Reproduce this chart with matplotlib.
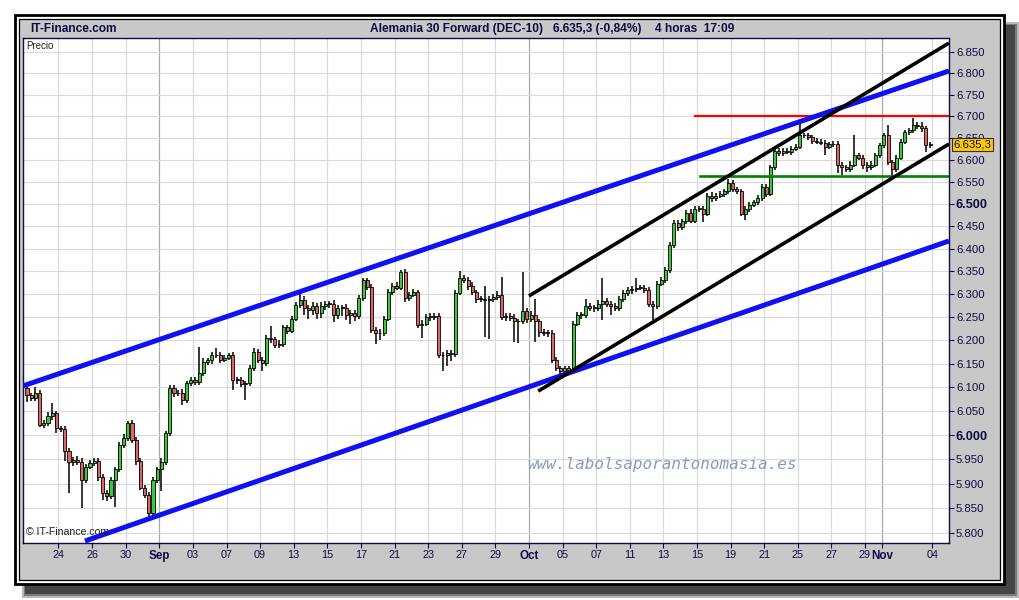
import numpy as np
import pandas as pd
import matplotlib
matplotlib.use('Agg')
import matplotlib.pyplot as plt
from matplotlib.patches import Rectangle
from matplotlib.ticker import NullLocator
import matplotlib.transforms as mtransforms

plt.rcParams['font.family'] = ['Liberation Sans', 'DejaVu Sans']

# ---------------- data (DAX 4h bars, index points) ----------------
open_first = 6098
closes = [
    6084, 6078, 6089, 6021, 6025, 6040, 6045, 6014, 6012, 5966,
    5944, 5949, 5945, 5908, 5935, 5943, 5947, 5914, 5881, 5874,
    5908, 5929, 5980, 5994, 6025, 5990, 5947, 5892, 5877, 5840,
    5908, 5929, 5944, 6004, 6099, 6087, 6089, 6073, 6109, 6116,
    6111, 6130, 6154, 6157, 6168, 6168, 6159, 6163, 6168, 6116,
    6116, 6106, 6109, 6141, 6175, 6158, 6152, 6205, 6202, 6189,
    6192, 6228, 6221, 6247, 6276, 6287, 6270, 6265, 6274, 6260,
    6274, 6279, 6279, 6255, 6270, 6270, 6255, 6260, 6252, 6291,
    6330, 6316, 6222, 6215, 6216, 6247, 6305, 6318, 6314, 6348,
    6291, 6299, 6304, 6233, 6236, 6250, 6250, 6252, 6168, 6168,
    6173, 6171, 6303, 6335, 6331, 6318, 6304, 6289, 6289, 6287,
    6289, 6294, 6297, 6250, 6252, 6248, 6241, 6241, 6264, 6245,
    6255, 6241, 6218, 6216, 6216, 6158, 6140, 6135, 6140, 6135,
    6236, 6255, 6255, 6275, 6270, 6270, 6279, 6286, 6279, 6274,
    6270, 6289, 6302, 6309, 6311, 6314, 6314, 6309, 6279, 6274,
    6323, 6331, 6353, 6408, 6457, 6447, 6461, 6480, 6462, 6488,
    6488, 6478, 6518, 6513, 6518, 6523, 6528, 6548, 6533, 6528,
    6478, 6488, 6498, 6503, 6513, 6538, 6523, 6583, 6620, 6615,
    6620, 6618, 6625, 6630, 6656, 6656, 6651, 6643, 6641, 6639,
    6630, 6635, 6637, 6589, 6583, 6579, 6589, 6610, 6605, 6589,
    6583, 6589, 6610, 6633, 6656, 6594, 6579, 6605, 6641, 6663,
    6668, 6680, 6677, 6672, 6633, 6635]

wick_up = [
    6, 5, 12, 5, 6, 8, 22, 6, 5, 6,
    8, 6, 8, 8, 6, 5, 6, 5, 6, 6,
    6, 5, 6, 8, 5, 6, 5, 6, 6, 6,
    5, 6, 8, 5, 5, 6, 6, 8, 5, 6,
    6, 56, 8, 6, 6, 15, 6, 6, 5, 6,
    6, 6, 5, 6, 8, 6, 6, 6, 25, 6,
    8, 5, 6, 6, 6, 13, 8, 6, 8, 6,
    8, 6, 6, 8, 6, 6, 8, 6, 6, 6,
    5, 6, 6, 6, 8, 6, 6, 6, 8, 5,
    6, 6, 8, 6, 8, 6, 8, 6, 6, 6,
    6, 6, 6, 15, 6, 6, 8, 6, 6, 28,
    6, 6, 10, 41, 6, 6, 8, 6, 85, 6,
    8, 35, 6, 6, 6, 6, 6, 6, 6, 6,
    6, 6, 6, 14, 6, 6, 8, 50, 6, 6,
    6, 6, 6, 6, 6, 22, 6, 6, 6, 6,
    6, 6, 6, 6, 6, 6, 6, 6, 8, 6,
    6, 6, 6, 8, 6, 6, 6, 9, 6, 6,
    6, 6, 6, 6, 8, 6, 6, 6, 6, 6,
    6, 6, 6, 6, 31, 6, 6, 6, 6, 6,
    6, 6, 6, 6, 6, 6, 8, 47, 6, 6,
    6, 8, 6, 6, 6, 23, 6, 6, 6, 6,
    6, 15, 6, 10, 6, 6]

wick_dn = [
    15, 6, 6, 5, 6, 6, 8, 10, 6, 20,
    64, 8, 6, 57, 6, 6, 6, 8, 14, 10,
    6, 55, 6, 6, 6, 6, 8, 6, 6, 8,
    6, 6, 44, 6, 6, 8, 6, 10, 6, 6,
    6, 6, 6, 6, 8, 6, 8, 6, 6, 22,
    8, 6, 32, 6, 6, 6, 18, 6, 8, 6,
    6, 6, 8, 6, 6, 6, 15, 20, 10, 15,
    12, 8, 10, 15, 10, 18, 12, 20, 10, 6,
    6, 8, 6, 23, 15, 6, 6, 8, 6, 6,
    8, 6, 6, 6, 28, 6, 8, 6, 6, 34,
    23, 15, 6, 6, 6, 8, 6, 8, 6, 80,
    85, 6, 6, 6, 8, 6, 44, 46, 6, 8,
    6, 45, 10, 6, 8, 6, 6, 13, 6, 6,
    6, 6, 8, 6, 6, 8, 6, 35, 6, 20,
    6, 6, 6, 6, 8, 6, 6, 6, 6, 30,
    6, 6, 6, 6, 6, 8, 6, 6, 6, 6,
    6, 19, 6, 8, 6, 6, 8, 6, 6, 6,
    6, 15, 6, 6, 6, 6, 7, 6, 6, 6,
    6, 6, 8, 6, 6, 6, 6, 8, 6, 6,
    19, 6, 6, 20, 17, 8, 6, 6, 6, 10,
    12, 6, 6, 6, 6, 6, 15, 6, 6, 6,
    6, 6, 6, 8, 15, 6]

bars_per_day = 4
first_day = '2010-08-20'
last_day = '2010-11-04'
tick_dates = ['2010-08-24', '2010-08-26', '2010-08-30', '2010-09-01', '2010-09-03',
              '2010-09-07', '2010-09-09', '2010-09-13', '2010-09-15', '2010-09-17',
              '2010-09-21', '2010-09-23', '2010-09-27', '2010-09-29', '2010-10-01',
              '2010-10-05', '2010-10-07', '2010-10-11', '2010-10-13', '2010-10-15',
              '2010-10-19', '2010-10-21', '2010-10-25', '2010-10-27', '2010-10-29',
              '2010-11-01', '2010-11-04']
tick_labels = ['24', '26', '30', 'Sep', '03', '07', '09', '13', '15', '17', '21', '23',
               '27', '29', 'Oct', '05', '07', '11', '13', '15', '19', '21', '25', '27',
               '29', 'Nov', '04']
month_labels = ['Sep', 'Oct', 'Nov']

price_levels = list(range(5800, 6851, 50))
bold_levels = [6000, 6500]

# trendlines (bar index, price)
blue_upper_x, blue_upper_y = [-0.95, 219.5], [6103, 6806]
blue_lower_x, blue_lower_y = [13.8, 219.5], [5784, 6417]
black_upper_x, black_upper_y = [119.5, 219.5], [6296, 6872]
black_lower_x, black_lower_y = [121.7, 219.5], [6092, 6636]
resist_x, resist_y = [159.0, 219.5], [6700, 6700]
support_x, support_y = [160.2, 219.5], [6563, 6563]

last_text = '6.635,3'
title_main = 'Alemania 30 Forward (DEC-10)'
title_price = '6.635,3 (-0,84%)'
title_time = '4 horas  17:09'

# ---------------- figure ----------------
W, H = 1020, 600
fig = plt.figure(figsize=(W / 100, H / 100), dpi=100)
fig.patch.set_facecolor('white')


def fx(x):
    return x / W


def fy(y):
    return 1 - y / H


def frect(x0, y0, x1, y1, z=-5, **kw):
    r = Rectangle((fx(x0), fy(y1)), fx(x1) - fx(x0), fy(y0) - fy(y1),
                  transform=fig.transFigure, zorder=z, **kw)
    fig.add_artist(r)
    return r


# drop shadow
frect(22, 22, 1019, 598, z=-9, facecolor='#b8b8b8', edgecolor='none')
frect(24, 24, 1017, 596, z=-8, facecolor='#7a7a7a', edgecolor='none')
frect(25, 25, 1015, 594, z=-7, facecolor='#454545', edgecolor='none')
# panel with double border
frect(15, 15, 1004, 584, z=-6, facecolor='white', edgecolor='black', linewidth=2.0)
frect(19, 19, 1000, 580, z=-5, facecolor='#c8c8c8', edgecolor='black', linewidth=0.9)

navy = '#0c0c44'

ax = fig.add_axes([fx(23), fy(543), fx(949) - fx(23), fy(38) - fy(543)], zorder=2)
ax.set_facecolor('white')
for s in ax.spines.values():
    s.set_color(navy)
    s.set_linewidth(1.0)

c = np.array(closes, dtype=float)
n = len(c)
o = np.concatenate([[open_first], c[:-1]])
top = np.maximum(o, c)
bot = np.minimum(o, c)
hi = np.array([t + w for t, w in zip(top, wick_up)])
lo = np.array([b - w for b, w in zip(bot, wick_dn)])
x = np.arange(n)

ax.set_yscale('log')
ax.set_xlim(-0.95, 219.5)
ax.set_ylim(5780, 6884)

ax.vlines(x[:len(hi)], lo, hi, colors='black', linewidth=1.1, zorder=3)
up = c >= o
body = np.maximum(top - bot, 1.5)
ax.bar(x[up], body[up], bottom=bot[up], width=0.72, color='#3cc83c',
       edgecolor='black', linewidth=0.6, zorder=4)
ax.bar(x[~up], body[~up], bottom=bot[~up], width=0.72, color='#e06464',
       edgecolor='black', linewidth=0.6, zorder=4)

# trendlines
ax.plot(blue_upper_x, blue_upper_y, color='#1010f0', lw=3.6, solid_capstyle='butt', zorder=6)
ax.plot(blue_lower_x, blue_lower_y, color='#1010f0', lw=3.6, solid_capstyle='butt', zorder=6)
ax.plot(black_upper_x, black_upper_y, color='black', lw=2.6, solid_capstyle='butt', zorder=6)
ax.plot(black_lower_x, black_lower_y, color='black', lw=2.6, solid_capstyle='butt', zorder=6)
ax.plot(resist_x, resist_y, color='#ff0000', lw=1.6, zorder=5)
ax.plot(support_x, support_y, color='#008000', lw=1.9, zorder=5)

# y axis
ax.yaxis.tick_right()
ax.yaxis.set_minor_locator(NullLocator())
ax.set_yticks(price_levels, labels=[f'{v / 1000:.3f}' for v in price_levels])
for lbl, v in zip(ax.get_yticklabels(), price_levels):
    lbl.set_color(navy)
    if v in bold_levels:
        lbl.set_fontweight('bold')
        lbl.set_fontsize(9.2)
    else:
        lbl.set_fontsize(8.2)
ax.tick_params(axis='y', which='both', direction='out', length=3.5, width=0.8,
               color=navy, pad=1.5, left=False, right=True)
ax.grid(axis='y', color='#dadada', linewidth=0.8, zorder=0)
ax.set_axisbelow(True)

# x axis: trading days, 4 bars per day
days = pd.bdate_range(first_day, last_day)
day_idx = {d.strftime('%Y-%m-%d'): i for i, d in enumerate(days)}
tick_pos = [day_idx[d] * bars_per_day - 0.5 for d in tick_dates]
ax.set_xticks(tick_pos, labels=tick_labels)
ax.xaxis.set_minor_locator(NullLocator())
for lbl, t in zip(ax.get_xticklabels(), tick_labels):
    lbl.set_color(navy)
    if t in month_labels:
        lbl.set_fontweight('bold')
        lbl.set_fontsize(8.4)
    else:
        lbl.set_fontsize(7.8)
ax.tick_params(axis='x', direction='out', length=3.5, width=0.8, color=navy, pad=1.2)
for p, t in zip(tick_pos, tick_labels):
    ax.axvline(p, color='#a8a8a8' if t in month_labels else '#dadada',
               linewidth=0.9, zorder=0)

# last price tag
trans = mtransforms.blended_transform_factory(ax.transAxes, ax.transData)
ax.text(1.005, closes[-1], last_text, transform=trans, ha='left', va='center',
        fontsize=8.2, color=navy, zorder=10, clip_on=False,
        bbox=dict(boxstyle='square,pad=0.15', facecolor='#ffc800', edgecolor='#303030',
                  linewidth=0.8))

# texts in plot
ax.text(0.004, 0.994, 'Precio', transform=ax.transAxes, ha='left', va='top',
        fontsize=7, color='#202020', zorder=10,
        bbox=dict(boxstyle='square,pad=0.15', facecolor='white', edgecolor='none'))
ax.text(0.003, 0.012, '\u00a9 IT-Finance.com', transform=ax.transAxes, ha='left',
        va='bottom', fontsize=7.6, color='#202020', zorder=10)
ax.text(0.690, 0.155, 'www.labolsaporantonomasia.es', transform=ax.transAxes,
        ha='center', va='center', fontsize=11.5, style='italic',
        family=['DejaVu Sans Mono'], color='#8a9abb', zorder=7)

# title bar
fig.text(fx(30), fy(29), 'IT-Finance.com', fontsize=8.6, fontweight='bold',
         color=navy, ha='left', va='center')
fig.text(fx(370), fy(29), title_main, fontsize=8.6, fontweight='bold',
         color=navy, ha='left', va='center')
fig.text(fx(553), fy(29), title_price, fontsize=8.6, fontweight='bold',
         color=navy, ha='left', va='center')
fig.text(fx(655), fy(29), title_time, fontsize=8.6, fontweight='bold',
         color=navy, ha='left', va='center')

fig.savefig('out.png', dpi=100, facecolor='white')
